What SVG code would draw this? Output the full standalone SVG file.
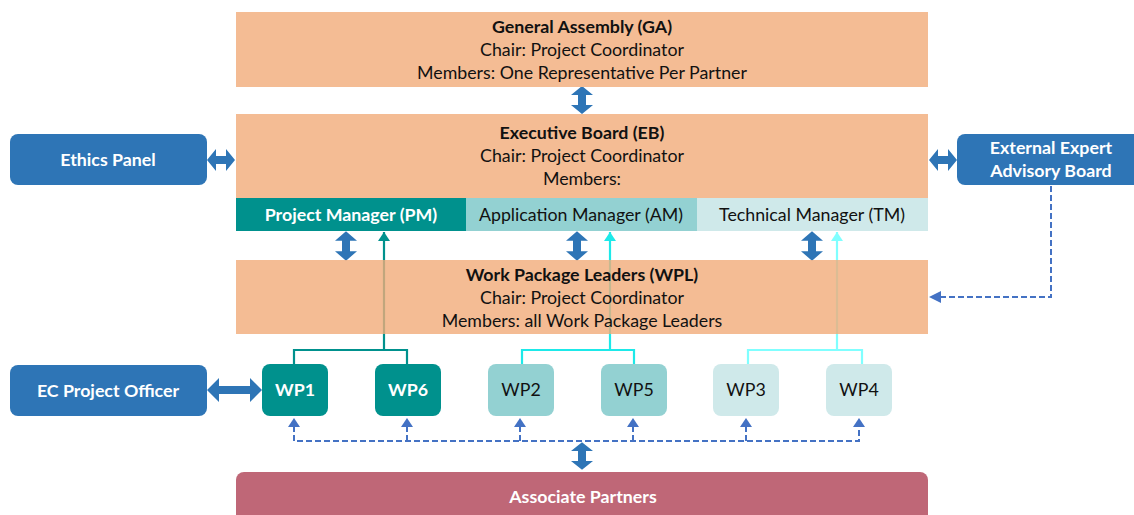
<svg xmlns="http://www.w3.org/2000/svg" width="1134" height="515" viewBox="0 0 1134 515">
  <style>
    .t { font-family: Lato, "Liberation Sans", sans-serif; font-size: 17.8px; text-anchor: middle; fill: #111; }
    .b { font-weight: bold; }
    .w { fill: #fff; font-weight: bold; }
    .body { fill: #F4BC94; }
    .side { fill: #2E75B6; }
    .dbl { fill: #2E75B6; }
    .dash { fill: none; stroke: #4472C4; stroke-width: 2; stroke-dasharray: 6 3; }
    .dhead { fill: #4472C4; }
  </style>
  <defs>
    <marker id="mTeal" viewBox="0 0 12 10" refX="6" refY="0" markerWidth="12" markerHeight="10" markerUnits="userSpaceOnUse">
      <path d="M0,9 L6,0 L12,9 Z" fill="#00918D"/>
    </marker>
    <marker id="mCyan" viewBox="0 0 12 10" refX="6" refY="0" markerWidth="12" markerHeight="10" markerUnits="userSpaceOnUse">
      <path d="M0,9 L6,0 L12,9 Z" fill="#1DE9E9"/>
    </marker>
    <marker id="mLight" viewBox="0 0 12 10" refX="6" refY="0" markerWidth="12" markerHeight="10" markerUnits="userSpaceOnUse">
      <path d="M0,9 L6,0 L12,9 Z" fill="#80FFFF"/>
    </marker>
    <!-- vertical block double arrow, 28 tall, centred at origin -->
    <path id="vdbl" d="M0,-14 L11,-5 L4,-5 L4,5 L11,5 L0,14 L-11,5 L-4,5 L-4,-5 L-11,-5 Z"/>
  </defs>

  <!-- connectors drawn beneath the WPL body -->
  <g id="connectors">
    <!-- WP groups up to managers -->
    <path d="M294,364 V350 H407 V364 M384,350 V232" fill="none" stroke="#00918D" stroke-width="2.2" marker-end="url(#mTeal)"/>
    <path d="M522,364 V350 H634 V364 M610,350 V232" fill="none" stroke="#1DE9E9" stroke-width="2.2" marker-end="url(#mCyan)"/>
    <path d="M748,370 V350 H862 V370 M837,350 V232" fill="none" stroke="#80FFFF" stroke-width="2.2" marker-end="url(#mLight)"/>

    <!-- block double arrows -->
    <use href="#vdbl" class="dbl" transform="translate(582,100)"/>
    <use href="#vdbl" class="dbl" transform="translate(346,246) scale(1,1.05)"/>
    <use href="#vdbl" class="dbl" transform="translate(577,246) scale(1,1.05)"/>
    <use href="#vdbl" class="dbl" transform="translate(812,246) scale(1,1.05)"/>
    <use href="#vdbl" class="dbl" transform="translate(582,456) scale(1,0.98)"/>
    <path class="dbl" d="M207,160 L216,149 L216,156 L226,156 L226,149 L235,160 L226,171 L226,164 L216,164 L216,171 Z"/>
    <path class="dbl" d="M929,160 L938,149 L938,156 L948,156 L948,149 L957,160 L948,171 L948,164 L938,164 L938,171 Z"/>
    <path class="dbl" d="M207,390 L219,378 L219,386 L250,386 L250,378 L262,390 L250,402 L250,394 L219,394 L219,402 Z"/>

    <!-- advisory board feedback to WPL -->
    <path class="dash" d="M1051,186 V297 H940"/>
    <path class="dhead" d="M929,297 L941,291 L941,303 Z"/>

    <!-- associate partners to work packages -->
    <path class="dash" d="M294,426 V441 H859 V426 M407,441 V426 M520,441 V426 M633,441 V426 M746,441 V426"/>
    <g class="dhead">
      <path d="M294,418 L288,427 L300,427 Z"/>
      <path d="M407,418 L401,427 L413,427 Z"/>
      <path d="M520,418 L514,427 L526,427 Z"/>
      <path d="M633,418 L627,427 L639,427 Z"/>
      <path d="M746,418 L740,427 L752,427 Z"/>
      <path d="M859,418 L853,427 L865,427 Z"/>
    </g>
  </g>

  <g id="ga">
    <rect class="body" x="236" y="12" width="692" height="75"/>
    <text class="t b" x="582" y="33">General Assembly (GA)</text>
    <text class="t" x="582" y="56">Chair: Project Coordinator</text>
    <text class="t" x="582" y="79">Members: One Representative Per Partner</text>
  </g>

  <g id="eb">
    <rect class="body" x="236" y="114" width="692" height="86"/>
    <text class="t b" x="582" y="139">Executive Board (EB)</text>
    <text class="t" x="582" y="162">Chair: Project Coordinator</text>
    <text class="t" x="582" y="185">Members:</text>
  </g>

  <g id="pm">
    <rect x="236" y="198" width="230" height="33" fill="#00918D"/>
    <text class="t w" x="351" y="221">Project Manager (PM)</text>
  </g>
  <g id="am">
    <rect x="466" y="198" width="231" height="33" fill="#93D1D2"/>
    <text class="t" x="581" y="221">Application Manager (AM)</text>
  </g>
  <g id="tm">
    <rect x="697" y="198" width="231" height="33" fill="#CFE9EA"/>
    <text class="t" x="812" y="221">Technical Manager (TM)</text>
  </g>

  <!-- slightly translucent so the manager links show through; tint compensates for the white backdrop -->
  <g id="wpl">
    <rect x="236" y="260" width="692" height="74" fill="#F1AB79" fill-opacity="0.8"/>
    <text class="t b" x="582" y="281">Work Package Leaders (WPL)</text>
    <text class="t" x="582" y="304">Chair: Project Coordinator</text>
    <text class="t" x="582" y="327">Members: all Work Package Leaders</text>
  </g>

  <g id="ethics">
    <rect class="side" x="10" y="134" width="197" height="51" rx="8"/>
    <text class="t w" x="108" y="166">Ethics Panel</text>
  </g>

  <g id="advisory">
    <rect class="side" x="957" y="134" width="185" height="51" rx="8"/>
    <text class="t w" x="1051" y="154">External Expert</text>
    <text class="t w" x="1051" y="177">Advisory Board</text>
  </g>

  <g id="ec-officer">
    <rect class="side" x="10" y="365" width="197" height="51" rx="8"/>
    <text class="t w" x="108" y="397">EC Project Officer</text>
  </g>

  <g id="wp1">
    <rect x="262" y="364" width="66" height="52" rx="8" fill="#00918D"/>
    <text class="t w" x="295" y="396">WP1</text>
  </g>
  <g id="wp6">
    <rect x="375" y="364" width="66" height="52" rx="8" fill="#00918D"/>
    <text class="t w" x="408" y="396">WP6</text>
  </g>
  <g id="wp2">
    <rect x="488" y="364" width="66" height="52" rx="8" fill="#93D1D2"/>
    <text class="t" x="521" y="396">WP2</text>
  </g>
  <g id="wp5">
    <rect x="601" y="364" width="66" height="52" rx="8" fill="#93D1D2"/>
    <text class="t" x="634" y="396">WP5</text>
  </g>
  <g id="wp3">
    <rect x="713" y="364" width="66" height="52" rx="8" fill="#CFE9EA"/>
    <text class="t" x="746" y="396">WP3</text>
  </g>
  <g id="wp4">
    <rect x="826" y="364" width="66" height="52" rx="8" fill="#CFE9EA"/>
    <text class="t" x="859" y="396">WP4</text>
  </g>

  <g id="associate-partners">
    <rect x="236" y="472" width="692" height="60" rx="8" fill="#BF6777"/>
    <text class="t w" x="583" y="503">Associate Partners</text>
  </g>
</svg>
